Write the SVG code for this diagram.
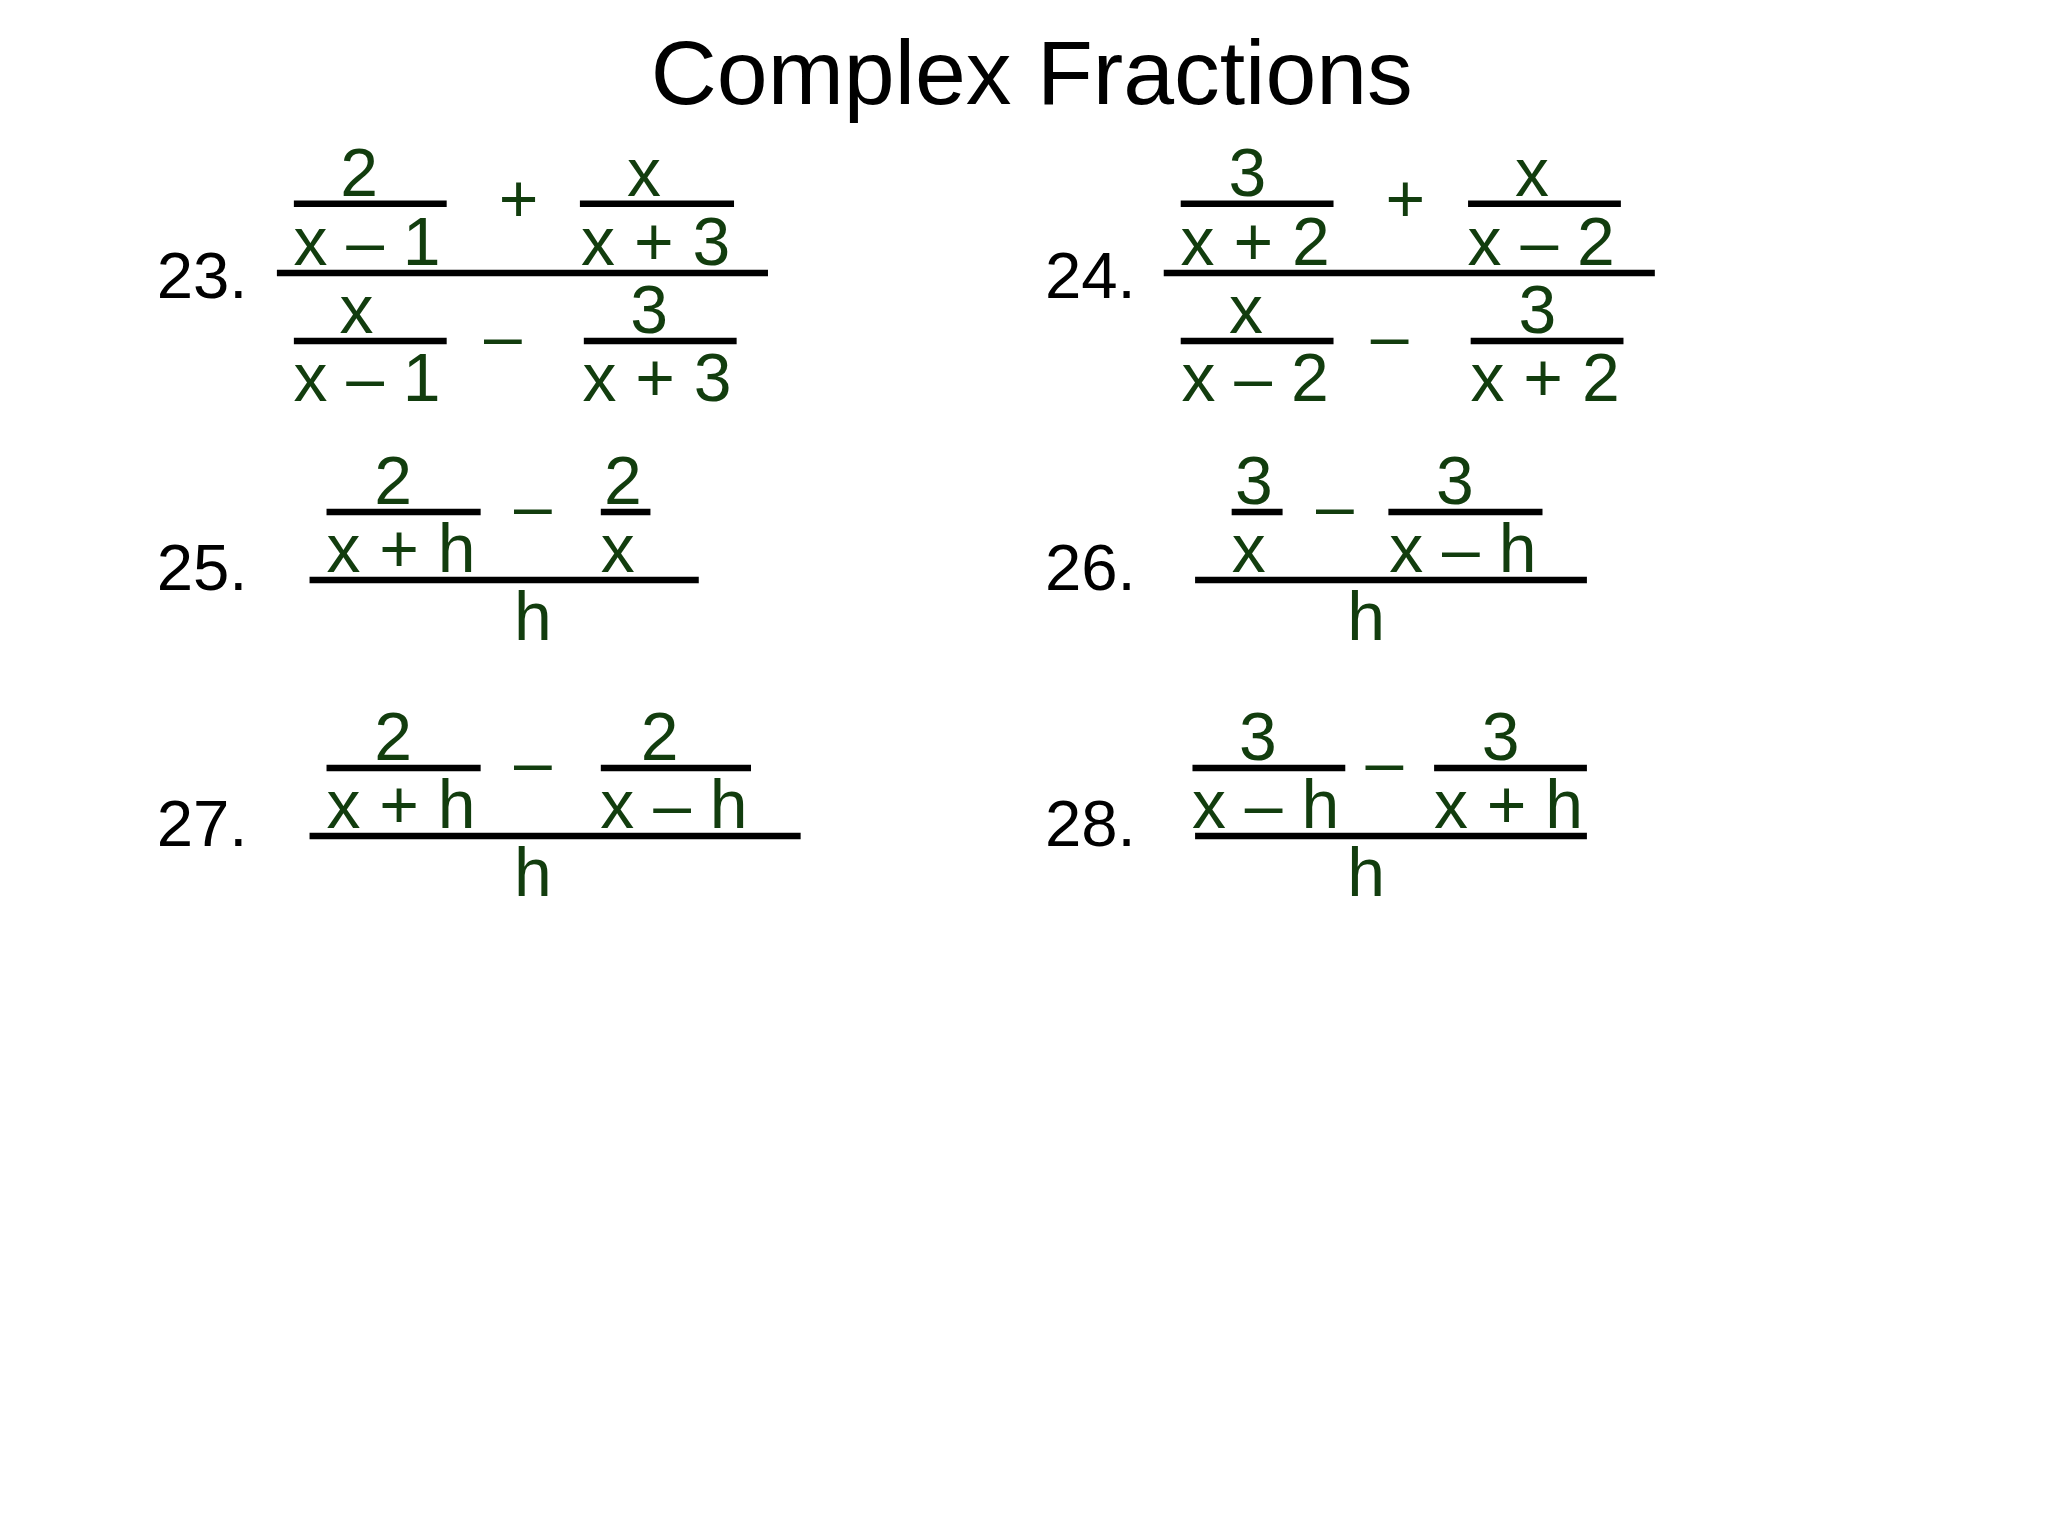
<svg xmlns="http://www.w3.org/2000/svg" width="2048" height="1536" viewBox="0 0 2048 1536">
<style>
.g{font-family:"Liberation Sans",Arial,sans-serif;font-size:52px;fill:#123d0e;text-anchor:middle}
.n{font-family:"Liberation Sans",Arial,sans-serif;font-size:50px;fill:#000}
.t{font-family:"Liberation Sans",Arial,sans-serif;font-size:70px;fill:#000;text-anchor:middle}
line{stroke:#000;stroke-width:5}
</style>
<rect width="2048" height="1536" fill="#fff"/>
<g transform="scale(1.3061)">
<text class="t" x="790" y="80">Complex Fractions</text>
<g id="p23">
<text class="n" x="120" y="228">23.</text>
<text class="g" x="275" y="150">2</text><line x1="225" y1="156" x2="342" y2="156"/><text class="g" x="281" y="203">x – 1</text>
<text class="g" x="397" y="170">+</text>
<text class="g" x="493" y="150">x</text><line x1="444" y1="156" x2="562" y2="156"/><text class="g" x="502" y="203">x + 3</text>
<line x1="212" y1="209" x2="588" y2="209"/>
<text class="g" x="273" y="255">x</text><line x1="225" y1="261" x2="342" y2="261"/><text class="g" x="281" y="307">x – 1</text>
<text class="g" x="385" y="275">–</text>
<text class="g" x="497" y="255">3</text><line x1="447" y1="261" x2="564" y2="261"/><text class="g" x="503" y="307">x + 3</text>
</g>
<g id="p24">
<text class="n" x="800" y="228">24.</text>
<text class="g" x="955" y="150">3</text><line x1="904" y1="156" x2="1021" y2="156"/><text class="g" x="961" y="203">x + 2</text>
<text class="g" x="1076" y="170">+</text>
<text class="g" x="1173" y="150">x</text><line x1="1124" y1="156" x2="1241" y2="156"/><text class="g" x="1180" y="203">x – 2</text>
<line x1="891" y1="209" x2="1267" y2="209"/>
<text class="g" x="954" y="255">x</text><line x1="904" y1="261" x2="1021" y2="261"/><text class="g" x="961" y="307">x – 2</text>
<text class="g" x="1064" y="275">–</text>
<text class="g" x="1177" y="255">3</text><line x1="1126" y1="261" x2="1243" y2="261"/><text class="g" x="1183" y="307">x + 2</text>
</g>
<g id="p25">
<text class="n" x="120" y="452">25.</text>
<text class="g" x="301" y="386">2</text><line x1="250" y1="392" x2="368" y2="392"/><text class="g" x="307" y="438">x + h</text>
<text class="g" x="408" y="405">–</text>
<text class="g" x="477" y="386">2</text><line x1="460" y1="392" x2="498" y2="392"/><text class="g" x="473" y="438">x</text>
<line x1="237" y1="444" x2="535" y2="444"/>
<text class="g" x="408" y="490">h</text>
</g>
<g id="p26">
<text class="n" x="800" y="452">26.</text>
<text class="g" x="960" y="386">3</text><line x1="943" y1="392" x2="982" y2="392"/><text class="g" x="956" y="438">x</text>
<text class="g" x="1022" y="405">–</text>
<text class="g" x="1114" y="386">3</text><line x1="1063" y1="392" x2="1181" y2="392"/><text class="g" x="1120" y="438">x – h</text>
<line x1="915" y1="444" x2="1215" y2="444"/>
<text class="g" x="1046" y="490">h</text>
</g>
<g id="p27">
<text class="n" x="120" y="648">27.</text>
<text class="g" x="301" y="582">2</text><line x1="250" y1="588" x2="368" y2="588"/><text class="g" x="307" y="634">x + h</text>
<text class="g" x="408" y="601">–</text>
<text class="g" x="505" y="582">2</text><line x1="460" y1="588" x2="575" y2="588"/><text class="g" x="516" y="634">x – h</text>
<line x1="237" y1="640" x2="613" y2="640"/>
<text class="g" x="408" y="686">h</text>
</g>
<g id="p28">
<text class="n" x="800" y="648">28.</text>
<text class="g" x="963" y="582">3</text><line x1="913" y1="588" x2="1030" y2="588"/><text class="g" x="969" y="634">x – h</text>
<text class="g" x="1060" y="601">–</text>
<text class="g" x="1149" y="582">3</text><line x1="1098" y1="588" x2="1215" y2="588"/><text class="g" x="1155" y="634">x + h</text>
<line x1="915" y1="640" x2="1215" y2="640"/>
<text class="g" x="1046" y="686">h</text>
</g>
</g>
</svg>
